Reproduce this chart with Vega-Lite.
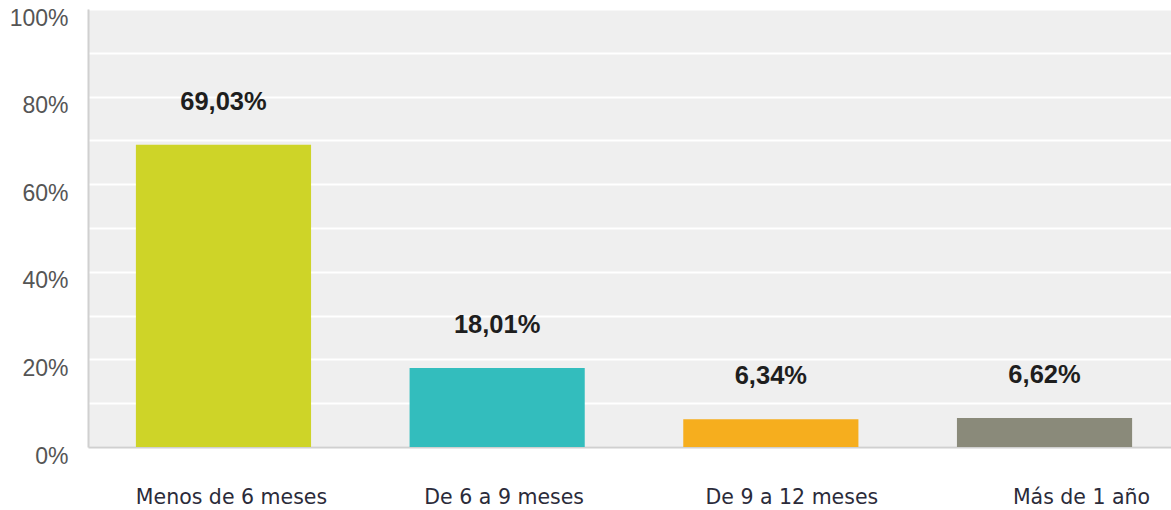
{
  "$schema": "https://vega.github.io/schema/vega-lite/v6.json",
  "autosize": "none",
  "width": 1092,
  "height": 438,
  "padding": {"left": 88, "top": 9, "right": 0, "bottom": 63},
  "background": "#ffffff",
  "config": {
    "locale": {"number": {"decimal": ",", "thousands": ".", "grouping": [3], "currency": ["", " €"]}},
    "view": {"fill": "#efefef", "stroke": null},
    "font": "Liberation Sans"
  },
  "data": {
    "values": [
      {"periodo": "Menos de 6 meses", "valor": 0.6903},
      {"periodo": "De 6 a 9 meses", "valor": 0.1801},
      {"periodo": "De 9 a 12 meses", "valor": 0.0634},
      {"periodo": "Más de 1 año", "valor": 0.0662}
    ]
  },
  "encoding": {
    "x": {
      "field": "periodo",
      "type": "nominal",
      "sort": null,
      "scale": {"paddingInner": 0.36, "paddingOuter": 0.175},
      "axis": {
        "title": null,
        "labelAngle": 0,
        "labelFont": "DejaVu Sans",
        "labelFontSize": 20.5,
        "labelColor": "#2b2b3a",
        "labelPadding": 40,
        "labelLimit": 0,
        "labelOffset": {
          "condition": [
            {"test": "datum.value == 'Más de 1 año'", "value": 37},
            {"test": "datum.value == 'De 9 a 12 meses'", "value": 21},
            {"test": "datum.value == 'De 6 a 9 meses'", "value": 7}
          ],
          "value": 8
        },
        "ticks": false,
        "domainColor": "#d0d0d0",
        "domainWidth": 2,
        "grid": false
      }
    },
    "y": {
      "field": "valor",
      "type": "quantitative",
      "scale": {"domain": [0, 1], "nice": false},
      "axis": {
        "title": null,
        "values": [0, 0.1, 0.2, 0.3, 0.4, 0.5, 0.6, 0.7, 0.8, 0.9, 1],
        "format": ".0%",
        "labelExpr": "round(datum.value*100) % 20 == 0 ? datum.label : ''",
        "labelFontSize": 23,
        "labelColor": "#555555",
        "labelPadding": 20,
        "labelOffset": 9,
        "ticks": false,
        "domainColor": "#d0d0d0",
        "domainWidth": 2,
        "grid": true,
        "gridColor": "#ffffff",
        "gridWidth": 2,
        "gridOpacity": 1
      }
    }
  },
  "layer": [
    {
      "mark": {"type": "bar"},
      "encoding": {
        "color": {
          "field": "periodo",
          "type": "nominal",
          "sort": null,
          "scale": {
            "domain": ["Menos de 6 meses", "De 6 a 9 meses", "De 9 a 12 meses", "Más de 1 año"],
            "range": ["#ced428", "#33bdbd", "#f6ae1e", "#8a8a7a"]
          },
          "legend": null
        }
      }
    },
    {
      "mark": {"type": "text", "dy": -43, "baseline": "middle", "fontSize": 25.5, "fontWeight": "bold", "color": "#1e1e1e"},
      "encoding": {
        "text": {"field": "valor", "type": "quantitative", "format": ".2%"}
      }
    }
  ]
}
